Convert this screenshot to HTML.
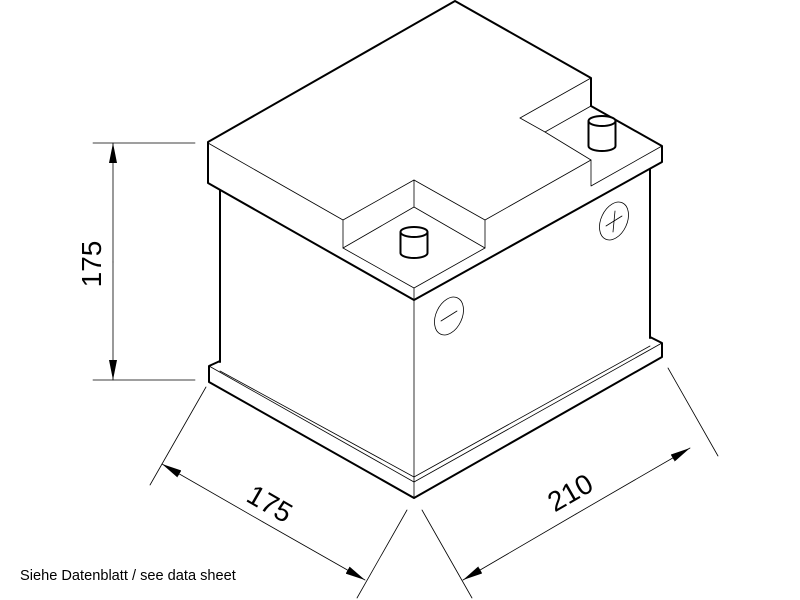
<!DOCTYPE html>
<html><head><meta charset="utf-8"><style>
html,body{margin:0;padding:0;background:#fff;}
svg{display:block;}
</style></head><body>
<svg width="800" height="600" viewBox="0 0 800 600" xmlns="http://www.w3.org/2000/svg">
<defs>
<marker id="ar" viewBox="0 0 20 8" refX="20" refY="4" markerWidth="20" markerHeight="8" markerUnits="userSpaceOnUse" orient="auto">
<path d="M0,0 L20,4 L0,8 Z" fill="#000"/>
</marker>
</defs>
<g fill="none" stroke="#000" stroke-linejoin="round" stroke-linecap="round">
<path d="M220,190 L220,362" stroke-width="2"/>
<path d="M650,166 L650,338" stroke-width="2"/>
<path d="M414,300 L414,482" stroke-width="0.8"/>
<path d="M220,361 L209,366 L209,382 L414,498 L662,357 L662,343 L650,337" stroke-width="2"/>
<path d="M209,366 L414,482 L662,343" stroke-width="0.8"/>
<path d="M220,371 L414,477 L650,346" stroke-width="0.8"/>
<path d="M414,482 L414,498" stroke-width="0.8"/>
<path d="M208,142 L455,1 L591,78 L591,106 L662,146 L662,162 L414,300 L208,183 Z" stroke-width="2" fill="#fff"/>
<g stroke-width="0.8">
<path d="M208,143 L343,220 L414,180 L485,220 L591,160 L591,186 L662,146"/>
<path d="M343,220 L343,248 L414,288 L485,248 L485,220"/>
<path d="M343,248 L414,207 L485,248"/>
<path d="M414,180 L414,207"/>
<path d="M414,288 L414,300"/>
<path d="M520,118 L591,78"/>
<path d="M520,118 L545,132 L591,106"/>
<path d="M545,132 L591,160"/>
</g>
<g stroke-width="2" fill="#fff">
<path d="M400.5,232 L400.5,253 A13.5,5 0 0 0 427.5,253 L427.5,232"/>
<ellipse cx="414" cy="232" rx="13.5" ry="5"/>
<path d="M588.5,121 L588.5,146 A13.5,5 0 0 0 615.5,146 L615.5,121"/>
<ellipse cx="602" cy="121" rx="13.5" ry="5"/>
</g>
<g stroke-width="0.8">
<ellipse cx="614" cy="221" rx="13" ry="20" transform="rotate(25 614 221)"/>
<path d="M606,226 L622,216 M615,211 L613,232"/>
<ellipse cx="449" cy="316" rx="13" ry="20" transform="rotate(25 449 316)"/>
<path d="M441,321 L457,311"/>
</g>
<g stroke-width="0.8">
<path d="M93,143 L195,143 M93,380 L195,380"/>
<path d="M113,262 L113,143" marker-end="url(#ar)"/>
<path d="M113,262 L113,380" marker-end="url(#ar)"/>
<path d="M206,387 L150,485 M407,510 L357,598"/>
<path d="M263,522 L162,464" marker-end="url(#ar)"/>
<path d="M263,522 L365,580" marker-end="url(#ar)"/>
<path d="M422,510 L472,598 M668,368 L718,456"/>
<path d="M576,514 L463,580" marker-end="url(#ar)"/>
<path d="M576,514 L690,448" marker-end="url(#ar)"/>
</g>
</g>
<g font-family="Liberation Sans, sans-serif" font-size="28" fill="#000" text-anchor="middle">
<text x="0" y="0" transform="translate(101,264) rotate(-90)">175</text>
<text x="0" y="0" transform="translate(265,512) rotate(30)">175</text>
<text x="0" y="0" transform="translate(575,501) rotate(-30)">210</text>
</g>
<text x="20" y="580" font-family="Liberation Sans, sans-serif" font-size="14.6" fill="#000">Siehe Datenblatt / see data sheet</text>
</svg>
</body></html>
